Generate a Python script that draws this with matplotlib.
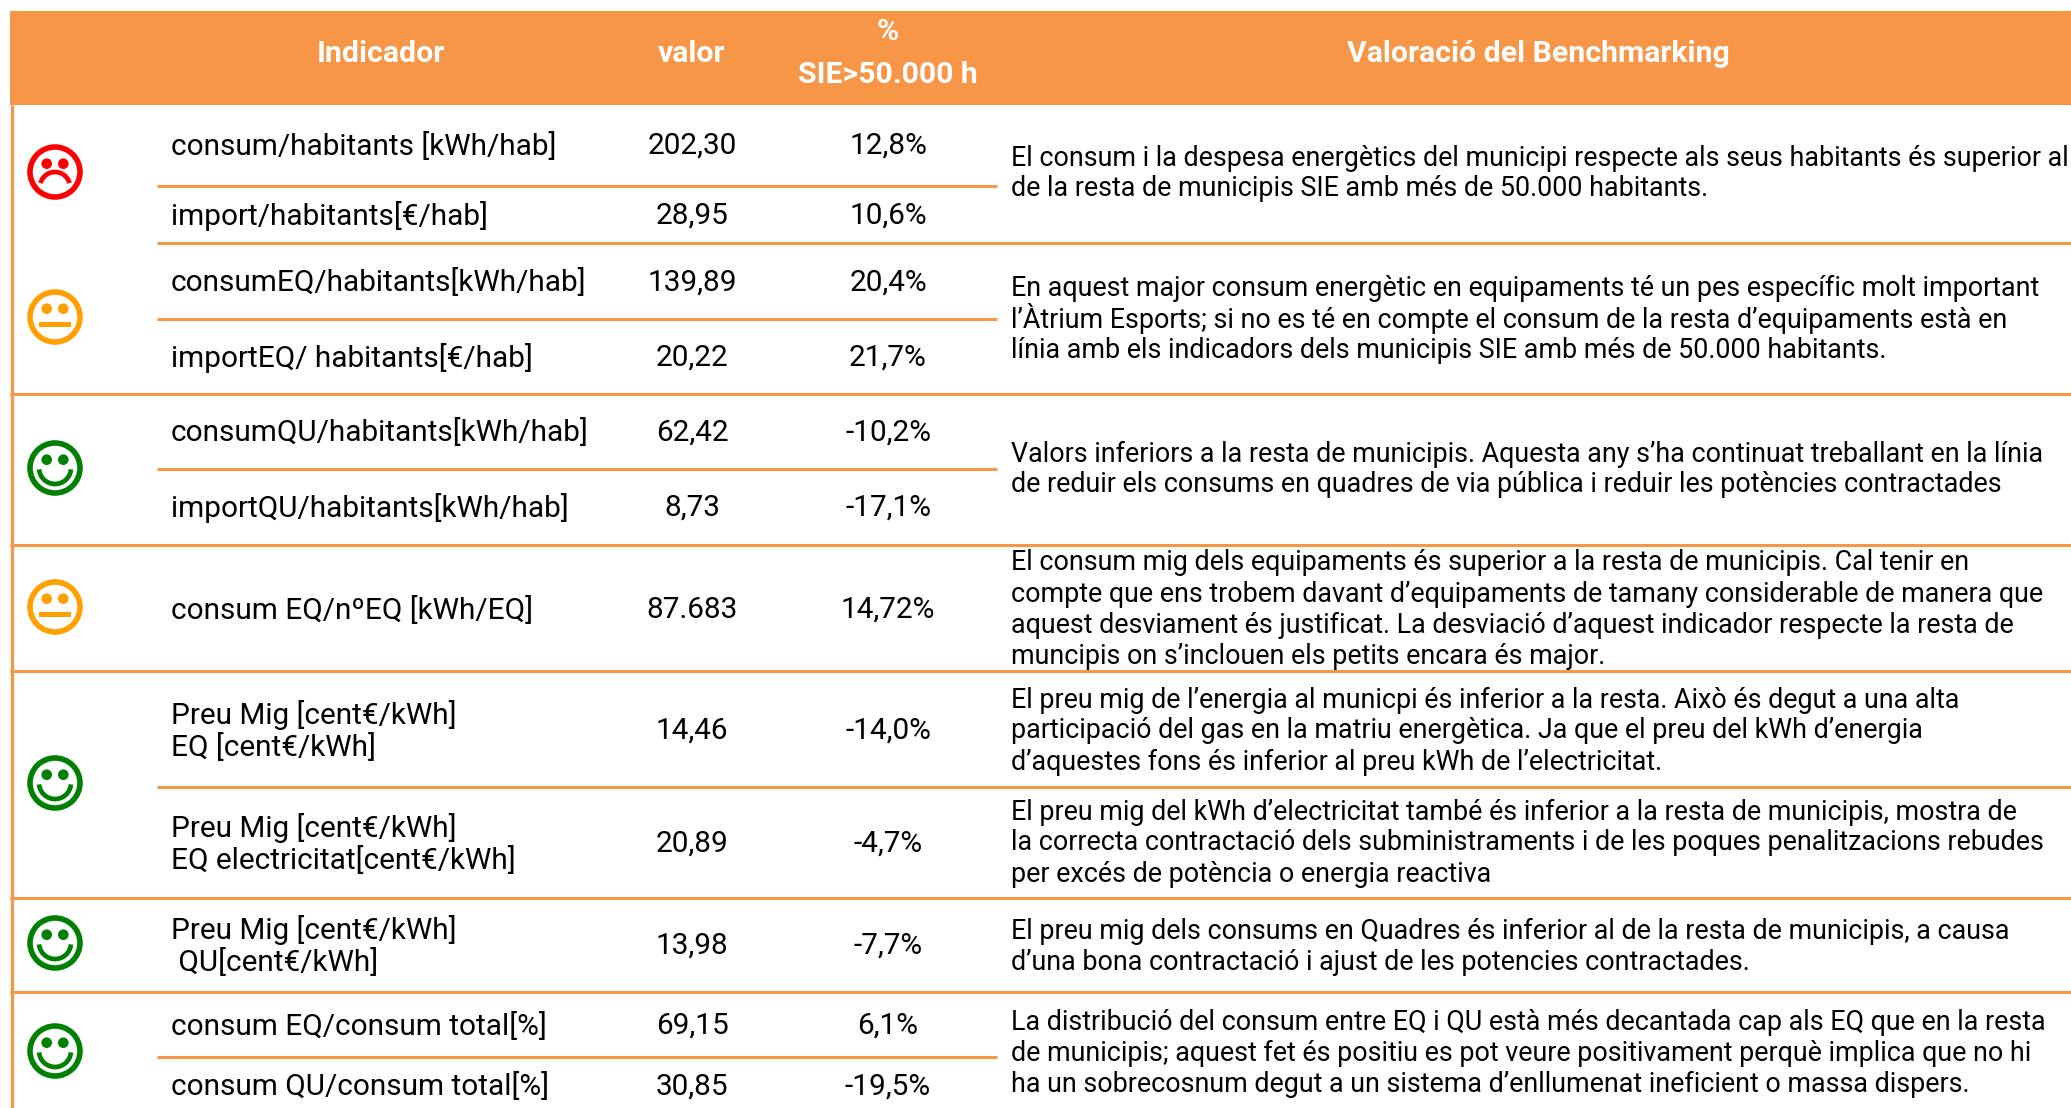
# Benchmarking table with smiley ratings
import matplotlib
matplotlib.use("Agg")
import matplotlib.pyplot as plt
from matplotlib.patches import Arc, Circle, Rectangle

plt.rcParams["font.family"] = ["Roboto", "DejaVu Sans"]

ORANGE = "#F79646"
FACE_COLORS = {"bad": "#FF0000", "mid": "#FF9F00", "good": "#008000"}

headers = ["Indicador", "valor", "%", "SIE>50.000 h", "Valoració del Benchmarking"]

indicators = [
    "consum/habitants [kWh/hab]",
    "import/habitants[€/hab]",
    "consumEQ/habitants[kWh/hab]",
    "importEQ/ habitants[€/hab]",
    "consumQU/habitants[kWh/hab]",
    "importQU/habitants[kWh/hab]",
    "consum EQ/nºEQ [kWh/EQ]",
    "Preu Mig [cent€/kWh]\nEQ [cent€/kWh]",
    "Preu Mig [cent€/kWh]\nEQ electricitat[cent€/kWh]",
    "Preu Mig [cent€/kWh]\n QU[cent€/kWh]",
    "consum EQ/consum total[%]",
    "consum QU/consum total[%]",
]
values = ["202,30", "28,95", "139,89", "20,22", "62,42", "8,73",
          "87.683", "14,46", "20,89", "13,98", "69,15", "30,85"]
percents = ["12,8%", "10,6%", "20,4%", "21,7%", "-10,2%", "-17,1%",
            "14,72%", "-14,0%", "-4,7%", "-7,7%", "6,1%", "-19,5%"]

faces = ["bad", "mid", "good", "mid", "good", "good", "good"]

comments = [
    ["El consum i la despesa energètics del municipi respecte als seus habitants és superior al",
     "de la resta de municipis SIE amb més de 50.000 habitants."],
    ["En aquest major consum energètic en equipaments té un pes específic molt important",
     "l’Àtrium Esports; si no es té en compte el consum de la resta d’equipaments està en",
     "línia amb els indicadors dels municipis SIE amb més de 50.000 habitants."],
    ["Valors inferiors a la resta de municipis. Aquesta any s’ha continuat treballant en la línia",
     "de reduir els consums en quadres de via pública i reduir les potències contractades"],
    ["El consum mig dels equipaments és superior a la resta de municipis. Cal tenir en",
     "compte que ens trobem davant d’equipaments de tamany considerable de manera que",
     "aquest desviament és justificat. La desviació d’aquest indicador respecte la resta de",
     "muncipis on s’inclouen els petits encara és major."],
    ["El preu mig de l’energia al municpi és inferior a la resta. Això és degut a una alta",
     "participació del gas en la matriu energètica. Ja que el preu del kWh d’energia",
     "d’aquestes fons és inferior al preu kWh de l’electricitat."],
    ["El preu mig del kWh d’electricitat també és inferior a la resta de municipis, mostra de",
     "la correcta contractació dels subministraments i de les poques penalitzacions rebudes",
     "per excés de potència o energia reactiva"],
    ["El preu mig dels consums en Quadres és inferior al de la resta de municipis, a causa",
     "d’una bona contractació i ajust de les potencies contractades."],
    ["La distribució del consum entre EQ i QU està més decantada cap als EQ que en la resta",
     "de municipis; aquest fet és positiu es pot veure positivament perquè implica que no hi",
     "ha un sobrecosnum degut a un sistema d’enllumenat ineficient o massa dispers."],
]

# layout in pixels of the original picture
row_y = [146, 216, 283, 358, 433, 508, 610, 731, 844, 946, 1026, 1087]
comment_y = [158, 288, 454, 563, 700, 812, 931, 1022]
face_y = [172, 317, 468, 607, 783, 943, 1051]
# (y, x start, x end)
rules = [(186, 157, 997), (243, 157, 2071), (319, 157, 997), (394, 10, 2071),
         (469, 157, 997), (545, 10, 2071), (671, 10, 2071), (787, 157, 2071),
         (898, 10, 2071), (992, 10, 2071), (1057, 157, 997)]
FS_LEFT = 21.4
FS_COMMENT = 19.4
FS_HEAD = 21.8
LINE = 31


def draw_face(ax, cy, kind, cx=55):
    col = FACE_COLORS[kind]
    ax.add_patch(Circle((cx, cy), 25, fc="white", ec=col, lw=4))
    for dx in (-8.3, 8.3):
        ax.add_patch(Circle((cx + dx, cy - 8.3), 5.3, fc=col, ec="none"))
    if kind == "mid":
        ax.add_patch(Rectangle((cx - 16, cy + 4.6), 32, 5.4, fc=col, ec="none"))
    elif kind == "good":
        ax.add_patch(Arc((cx, cy), 32, 32, theta1=5, theta2=175, color=col, lw=3.4))
    else:
        ax.add_patch(Arc((cx, cy + 15), 30, 30, theta1=195, theta2=345, color=col, lw=3.4))


fig = plt.figure(figsize=(20.71, 11.08), dpi=100)
ax = fig.add_axes([0, 0, 1, 1])
ax.set_xlim(0, 2071)
ax.set_ylim(1108, 0)
ax.axis("off")

ax.add_patch(Rectangle((10, 11), 2061, 94, fc=ORANGE, ec="none"))
ax.plot([11.5, 11.5], [105, 1108], color=ORANGE, lw=2.3, solid_capstyle="butt")
for y, x0, x1 in rules:
    ax.plot([x0, x1], [y, y], color=ORANGE, lw=2.2, solid_capstyle="butt")

head = dict(color="white", ha="center", va="center", fontsize=FS_HEAD, fontweight="bold")
ax.text(381, 54, headers[0], **head)
ax.text(692, 54, headers[1], **head)
ax.text(888, 32, headers[2], **head)
ax.text(888, 75, headers[3], **head)
ax.text(1538, 54, headers[4], **head)

for y, name, val, pct in zip(row_y, indicators, values, percents):
    ax.text(171, y, name, ha="left", va="center", fontsize=FS_LEFT, color="black", linespacing=1.13)
    ax.text(692, y, val, ha="center", va="center", fontsize=FS_LEFT, color="black")
    ax.text(888, y, pct, ha="center", va="center", fontsize=FS_LEFT, color="black")

for y0, block in zip(comment_y, comments):
    for i, line in enumerate(block):
        ax.text(1011, y0 + i * LINE, line, ha="left", va="center", fontsize=FS_COMMENT, color="black")

for y, kind in zip(face_y, faces):
    draw_face(ax, y, kind)

fig.savefig("out.png", dpi=100, facecolor="white")
